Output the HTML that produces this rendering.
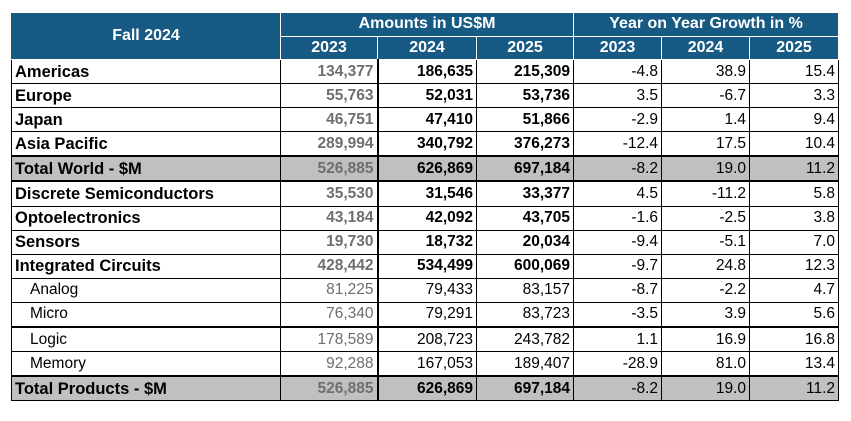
<!DOCTYPE html>
<html><head><style>
body{margin:0;background:#fff;width:851px;height:421px;overflow:hidden;font-family:"Liberation Sans",Arial,sans-serif}
table{position:absolute;left:11px;top:12px;border-collapse:collapse;table-layout:fixed;width:827px}
td,th{border:1px solid #000;padding:0 3px;font-size:15.5px;height:23.1px;line-height:20px;white-space:nowrap;overflow:hidden}
th{background:#175a84;color:#fff;border-color:#fff;font-weight:bold;font-size:16px;text-align:center;height:22px}
td{text-align:right}
td.l{text-align:left;font-weight:bold;font-size:16.5px}
td.s{text-align:left;padding-left:18px;font-weight:normal;font-size:15.5px}
.g{color:#6e6e6e}
.b{font-weight:bold}
tr.t td{background:#c0c0c0}
tr.tk td{border-bottom:2px solid #000}
td.v{border-right:2px solid #000}
</style></head><body>
<table>
<colgroup><col style="width:269px"><col style="width:97px"><col style="width:99px"><col style="width:97px"><col style="width:88px"><col style="width:88px"><col style="width:89px"></colgroup>
<tr><th rowspan="2" style="height:46px;border-left-color:#175a84">Fall 2024</th><th colspan="3">Amounts in US$M</th><th colspan="3">Year on Year Growth in %</th></tr>
<tr><th>2023</th><th>2024</th><th>2025</th><th>2023</th><th>2024</th><th>2025</th></tr>
<tr><td class="l">Americas</td><td class="g b v">134,377</td><td class="b">186,635</td><td class="b">215,309</td><td>-4.8</td><td>38.9</td><td>15.4</td></tr>
<tr><td class="l">Europe</td><td class="g b v">55,763</td><td class="b">52,031</td><td class="b">53,736</td><td>3.5</td><td>-6.7</td><td>3.3</td></tr>
<tr><td class="l">Japan</td><td class="g b v">46,751</td><td class="b">47,410</td><td class="b">51,866</td><td>-2.9</td><td>1.4</td><td>9.4</td></tr>
<tr class="tk"><td class="l">Asia Pacific</td><td class="g b v">289,994</td><td class="b">340,792</td><td class="b">376,273</td><td>-12.4</td><td>17.5</td><td>10.4</td></tr>
<tr class="t tk"><td class="l">Total World - $M</td><td class="g b v">526,885</td><td class="b">626,869</td><td class="b">697,184</td><td>-8.2</td><td>19.0</td><td>11.2</td></tr>
<tr><td class="l">Discrete Semiconductors</td><td class="g b v">35,530</td><td class="b">31,546</td><td class="b">33,377</td><td>4.5</td><td>-11.2</td><td>5.8</td></tr>
<tr><td class="l">Optoelectronics</td><td class="g b v">43,184</td><td class="b">42,092</td><td class="b">43,705</td><td>-1.6</td><td>-2.5</td><td>3.8</td></tr>
<tr><td class="l">Sensors</td><td class="g b v">19,730</td><td class="b">18,732</td><td class="b">20,034</td><td>-9.4</td><td>-5.1</td><td>7.0</td></tr>
<tr><td class="l">Integrated Circuits</td><td class="g b v">428,442</td><td class="b">534,499</td><td class="b">600,069</td><td>-9.7</td><td>24.8</td><td>12.3</td></tr>
<tr><td class="l s">Analog</td><td class="g v">81,225</td><td>79,433</td><td>83,157</td><td>-8.7</td><td>-2.2</td><td>4.7</td></tr>
<tr class="tk"><td class="l s">Micro</td><td class="g v">76,340</td><td>79,291</td><td>83,723</td><td>-3.5</td><td>3.9</td><td>5.6</td></tr>
<tr><td class="l s">Logic</td><td class="g v">178,589</td><td>208,723</td><td>243,782</td><td>1.1</td><td>16.9</td><td>16.8</td></tr>
<tr class="tk"><td class="l s">Memory</td><td class="g v">92,288</td><td>167,053</td><td>189,407</td><td>-28.9</td><td>81.0</td><td>13.4</td></tr>
<tr class="t"><td class="l">Total Products - $M</td><td class="g b v">526,885</td><td class="b">626,869</td><td class="b">697,184</td><td>-8.2</td><td>19.0</td><td>11.2</td></tr>
</table>
</body></html>
